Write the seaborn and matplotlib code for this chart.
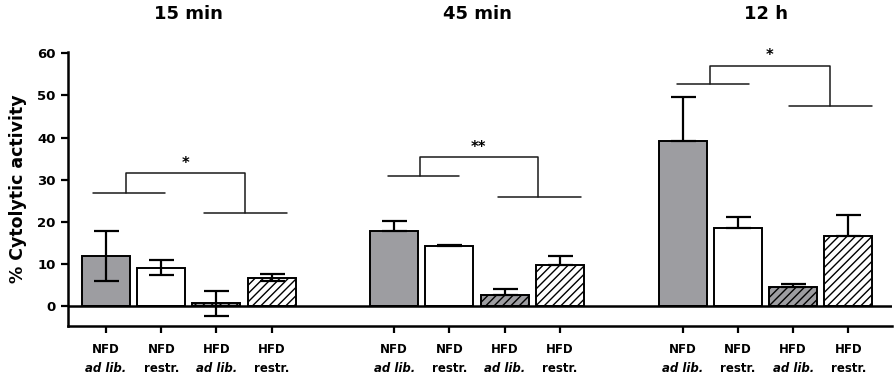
import numpy as np
import pandas as pd
import matplotlib
matplotlib.use("Agg")
import matplotlib.pyplot as plt
import matplotlib.transforms as mtransforms
import seaborn as sns

# ---- data ----
time_points = ["15 min", "45 min", "12 h"]
diets = ["NFD", "NFD", "HFD", "HFD"]
feeding = ["ad lib.", "restr.", "ad lib.", "restr."]
conditions = ["NFD ad lib.", "NFD restr.", "HFD ad lib.", "HFD restr."]

mean_15min = [11.8, 9.1, 0.55, 6.7]
sd_15min = [6.0, 1.7, 3.0, 0.9]
mean_45min = [17.7, 14.3, 2.5, 9.7]
sd_45min = [2.5, 0.15, 1.5, 2.2]
mean_12h = [39.2, 18.6, 4.4, 16.6]
sd_12h = [10.4, 2.6, 0.7, 5.0]

# significance brackets (one per time point)
sig_labels = ["*", "**", "*"]
sig_left_y = [26.9, 30.9, 52.8]
sig_right_y = [22.0, 25.9, 47.6]
sig_top_y = [31.5, 35.3, 57.1]

# ---- layout ----
group_offsets = [0.0, 5.22, 10.45]
slot = np.arange(4)
left_span = [(-0.24, 1.07), (-0.12, 1.17), (-0.10, 1.20)]
right_span = [(1.77, 3.27), (1.88, 3.38), (1.92, 3.43)]
legs = [(0.36, 2.51), (0.47, 2.60), (0.50, 2.66)]

means = [mean_15min, mean_45min, mean_12h]
sds = [sd_15min, sd_45min, sd_12h]

rows = []
for g, off in enumerate(group_offsets):
    for i in range(4):
        rows.append({"pos": off + slot[i], "mean": means[g][i], "sd": sds[g][i],
                     "cond": conditions[i], "group": g})
df = pd.DataFrame(rows)

palette = {"NFD ad lib.": "#9c9ca2", "NFD restr.": "white",
           "HFD ad lib.": "#9c9ca2", "HFD restr.": "white"}

sns.set_style("ticks")
plt.rcParams['font.family'] = ['DejaVu Sans']
plt.rcParams['hatch.linewidth'] = 1.0
for key in ["text.color", "axes.labelcolor", "xtick.color", "ytick.color", "axes.edgecolor"]:
    plt.rcParams[key] = "black"

fig = plt.figure(figsize=(8.96, 3.76), dpi=100)
ax = fig.add_axes([0.0759, 0.133, 0.9196, 0.7295])

sns.barplot(data=df, x="pos", y="mean", hue="cond", hue_order=conditions,
            palette=palette, dodge=False, native_scale=True, width=0.87,
            errorbar=None, edgecolor="black", linewidth=1.4, legend=False, ax=ax)

for cont, cond in zip(ax.containers, conditions):
    if cond.startswith("HFD"):
        for p in cont:
            p.set_hatch("////")

# error bars: both sides for 15 min, upward only afterwards
lower = np.where(df["group"] == 0, df["sd"], 0.0)
ax.errorbar(df["pos"], df["mean"], yerr=[lower, df["sd"]], fmt="none",
            ecolor="black", elinewidth=1.6, capsize=9, capthick=1.6, zorder=5)

ax.axhline(0, color="black", lw=1.8, zorder=6)

# brackets
for g, off in enumerate(group_offsets):
    kw = dict(color="#1a1a1a", lw=1.1)
    ax.plot([off + left_span[g][0], off + left_span[g][1]], [sig_left_y[g]] * 2, **kw)
    ax.plot([off + right_span[g][0], off + right_span[g][1]], [sig_right_y[g]] * 2, **kw)
    ax.plot([off + legs[g][0], off + legs[g][0], off + legs[g][1], off + legs[g][1]],
            [sig_left_y[g], sig_top_y[g], sig_top_y[g], sig_right_y[g]], **kw)
    ax.text(off + np.mean(legs[g]), sig_top_y[g] + 0.6, sig_labels[g],
            ha="center", va="bottom", fontsize=10.5, fontweight="bold")

ax.set_xlim(-0.69, 14.24)
ax.set_ylim(-4.8, 60.4)
ax.set_yticks(np.arange(0, 61, 10))
ax.set_yticklabels([str(v) for v in range(0, 61, 10)], fontsize=9.5, fontweight="bold")
ax.set_xticks(df["pos"])
ax.set_xticklabels([])
ax.set_xlabel("")
ax.set_ylabel("% Cytolytic activity", fontsize=12.5, fontweight="bold", labelpad=7)

for s in ["left", "bottom"]:
    ax.spines[s].set_linewidth(1.8)
sns.despine(ax=ax)
ax.tick_params(axis="y", width=1.6, length=5, pad=4)
ax.tick_params(axis="x", width=1.6, length=5)

trans = mtransforms.blended_transform_factory(ax.transData, ax.transAxes)
for g, off in enumerate(group_offsets):
    for i in range(4):
        ax.text(off + slot[i], -0.085, diets[i], transform=trans, ha="center",
                va="center", fontsize=8.5, fontweight="bold")
        ax.text(off + slot[i], -0.155, feeding[i], transform=trans, ha="center",
                va="center", fontsize=8.5, fontweight="bold",
                fontstyle="italic" if i in (0, 2) else "normal")
    ax.text(off + 1.5, 1.137, time_points[g], transform=trans, ha="center",
            va="center", fontsize=13, fontweight="bold")

fig.savefig("out.png", dpi=100)
